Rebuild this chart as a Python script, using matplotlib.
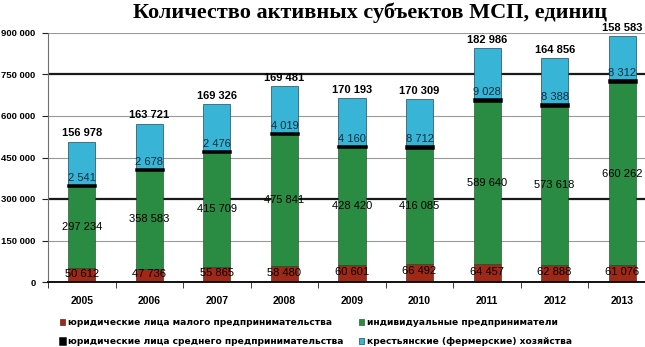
import matplotlib
matplotlib.use("Agg")
import matplotlib.pyplot as plt
import numpy as np

years = ["2005", "2006", "2007", "2008", "2009", "2010", "2011", "2012", "2013"]

# юридические лица малого предпринимательства
small_le = [50612, 47736, 55865, 58480, 60601, 66492, 64457, 62888, 61076]
# индивидуальные предприниматели
individual = [297234, 358583, 415709, 475841, 428420, 416085, 589640, 573618, 660262]
# юридические лица среднего предпринимательства
medium_le = [2541, 2678, 2476, 4019, 4160, 8712, 9028, 8388, 8312]
# крестьянские (фермерские) хозяйства
farms = [156978, 163721, 169326, 169481, 170193, 170309, 182986, 164856, 158583]

labels = [
    "юридические лица малого предпринимательства",
    "юридические лица среднего предпринимательства",
    "индивидуальные предприниматели",
    "крестьянские (фермерские) хозяйства",
]

yticks = [0, 150000, 300000, 450000, 600000, 750000, 900000]

c_red = "#a02814"
c_green = "#2a8c42"
c_black = "#000000"
c_cyan = "#38b4d6"


def fmt(v):
    return f"{v:,}".replace(",", " ")


fig = plt.figure(figsize=(6.45, 3.47), dpi=100)
ax = fig.add_axes([48 / 645, 65 / 347, 608 / 645, 249 / 347])

x = np.arange(len(years))
w = 0.4
small_le = np.array(small_le)
individual = np.array(individual)
medium_le = np.array(medium_le)
farms = np.array(farms)

b1 = small_le
b2 = b1 + individual
b3 = b2 + medium_le

# сетка
for yv in yticks[1:]:
    if yv in (300000, 750000):
        ax.axhline(yv, color="#1a1a1a", lw=1.6, zorder=0)
    else:
        ax.axhline(yv, color="#9a9a9a", lw=0.8, zorder=0)

h_red = ax.bar(x, small_le, w, color=c_red, edgecolor="#3a1008", lw=0.4, zorder=2)
h_green = ax.bar(x, individual, w, bottom=b1, color=c_green, edgecolor="#14401e", lw=0.4, zorder=2)
h_cyan = ax.bar(x, farms, w, bottom=b3, color=c_cyan, edgecolor="#1d4a58", lw=0.5, zorder=2)
h_black = ax.bar(x, medium_le, w, bottom=b2, color=c_black, edgecolor=c_black, lw=1.8, zorder=3)

# подписи значений
for i in range(len(years)):
    ax.text(x[i], small_le[i] / 2 + 5000, fmt(small_le[i]), ha="center", va="center",
            fontsize=8, family="Liberation Sans", zorder=5)
    ax.text(x[i], b1[i] + individual[i] / 2, fmt(individual[i]), ha="center", va="center",
            fontsize=8, family="Liberation Sans", zorder=5)
    ax.text(x[i], b3[i] + 7000, fmt(medium_le[i]), ha="center", va="bottom",
            fontsize=8, family="Liberation Sans", color="#10303c", zorder=5)
    ax.text(x[i], b3[i] + farms[i] + 12000, fmt(farms[i]), ha="center", va="bottom",
            fontsize=8, family="Liberation Sans", fontweight="bold", zorder=5)

ax.set_xlim(-0.5, 8.5)
ax.set_ylim(0, 900000)
ax.set_yticks(yticks)
ax.set_yticklabels([fmt(v) for v in yticks], fontsize=6.8, family="Liberation Sans",
                   fontweight="bold")
ax.set_xticks(x)
ax.set_xticklabels(years, fontsize=7.5, family="Liberation Sans", fontweight="bold")
ax.set_xticks(np.arange(-0.5, 9, 1), minor=True)
ax.tick_params(axis="x", which="major", length=0, pad=10)
ax.tick_params(axis="x", which="minor", length=4, direction="out", color="#202020")
ax.tick_params(axis="y", length=4, direction="out", color="#202020", pad=5)

for s in ("top", "right"):
    ax.spines[s].set_visible(False)
ax.spines["left"].set_color("#707070")
ax.spines["left"].set_linewidth(0.8)
ax.spines["bottom"].set_color("#101010")
ax.spines["bottom"].set_linewidth(1.4)

fig.text(0.574, 0.962, "Количество активных субъектов МСП, единиц", ha="center", va="center",
         fontsize=16, family="Liberation Serif", fontweight="bold")

leg = fig.legend([h_red, h_black, h_green, h_cyan], labels, ncol=2, frameon=False,
                 loc="upper left", bbox_to_anchor=(0.087, 0.093),
                 handlelength=0.55, handleheight=0.55, handletextpad=0.3,
                 columnspacing=1.8, labelspacing=1.1, borderaxespad=0,
                 prop={"family": "DejaVu Sans", "weight": "bold", "size": 6.6})

fig.savefig("out.png", dpi=100)
